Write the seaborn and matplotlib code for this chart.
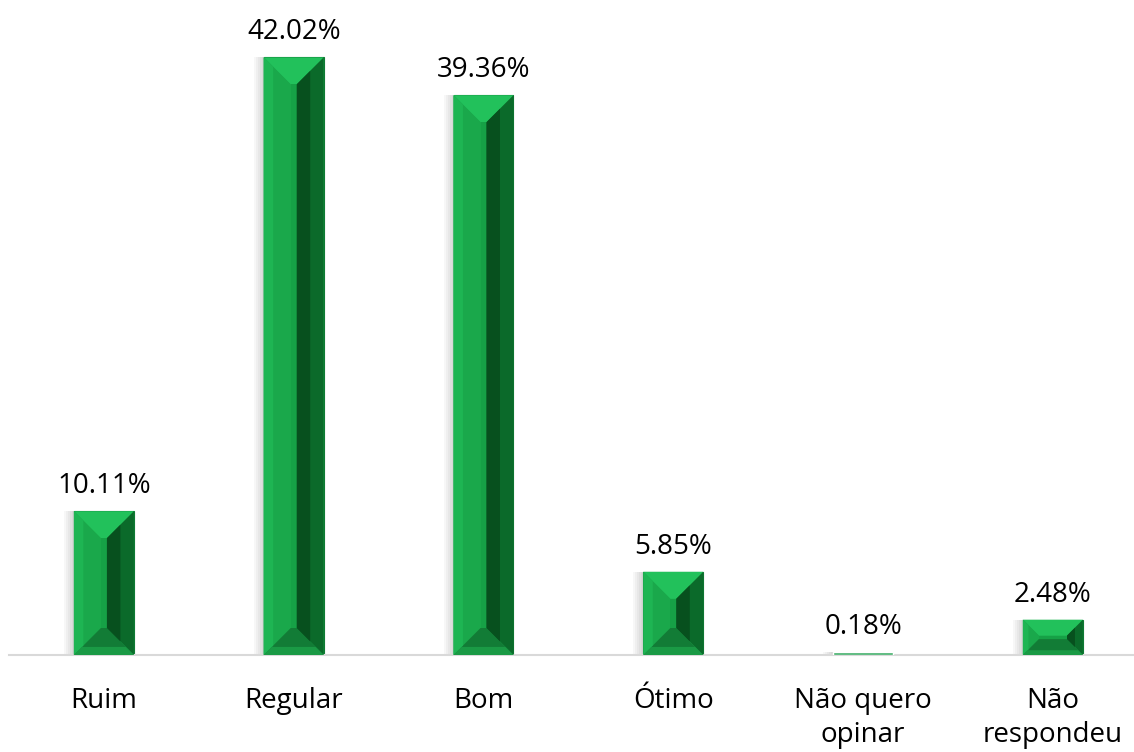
import pandas as pd
import seaborn as sns
import matplotlib.pyplot as plt
from matplotlib.patches import Polygon, Rectangle

# survey answers and their share
categories = ['Ruim', 'Regular', 'Bom', 'Ótimo', 'Não quero\nopinar', 'Não\nrespondeu']
percent = [10.11, 42.02, 39.36, 5.85, 0.18, 2.48]

df = pd.DataFrame({'categoria': categories, 'percentual': percent})

sns.set_style('white')
plt.rcParams['font.family'] = ['Open Sans', 'DejaVu Sans']
plt.rcParams['text.color'] = 'black'
plt.rcParams['xtick.color'] = 'black'

W, H = 1134, 752
fig = plt.figure(figsize=(W / 100, H / 100), dpi=100)
ax = fig.add_axes([9 / W, (H - 655) / H, (W - 9) / W, 640 / H])

sns.barplot(data=df, x='categoria', y='percentual', color='#1aa84a',
            saturation=1, width=0.316, ax=ax, zorder=2)
ax.set_xlim(-0.5, (W - 9) / 189.8 - 0.5)
ax.set_ylim(0, 45)

for s in ['top', 'left', 'right']:
    ax.spines[s].set_visible(False)
ax.spines['bottom'].set_color('#d9d9d9')
ax.spines['bottom'].set_linewidth(1.5)
ax.set_yticks([])
ax.set_xlabel('')
ax.set_ylabel('')
ax.tick_params(axis='x', length=0, pad=23, labelsize=20, labelcolor='black')
for t in ax.get_xticklabels():
    t.set_linespacing(1.3)

# value labels
for p, v in zip(ax.patches, percent):
    ax.annotate(f'{v:.2f}%', (p.get_x() + p.get_width() / 2, p.get_height()),
                xytext=(0, 8), textcoords='offset points',
                ha='center', va='bottom', fontsize=20, color='black')

# bevel look, built from the bar geometry seaborn produced
fig.canvas.draw()
inv = ax.transData.inverted()


def poly(pts, color, z=3):
    ax.add_patch(Polygon(inv.transform(pts), closed=True, facecolor=color,
                         edgecolor='none', zorder=z))


for p in list(ax.patches[:len(percent)]):
    bb = p.get_window_extent()
    x0, y0, x1, y1 = bb.x0, bb.y0, bb.x1, bb.y1
    w, h = x1 - x0, y1 - y0
    # soft shadow on the left, behind the bar
    for k in range(1, 6):
        ax.add_patch(Rectangle(inv.transform([(x0 - 2 * k, y0)])[0],
                               p.get_width(), p.get_height(),
                               facecolor='#000000', alpha=0.03,
                               edgecolor='none', zorder=0.5))
    if h < 4:
        p.set_facecolor('#3fae68')
        p.set_zorder(3)
        continue
    p.set_edgecolor('#0e7a33')
    p.set_linewidth(0.8)
    b = min(w, h) * 0.45
    ix0, ix1, iy0, iy1 = x0 + b, x1 - b, y0 + b, y1 - b
    poly([(x0, y1), (x1, y1), (ix1, iy1), (ix0, iy1)], '#22c15b')
    poly([(x0, y0), (x0, y1), (ix0, iy1), (ix0, iy0)], '#1aa84b')
    poly([(x0, y0), (x0, y1), (x0 + b * 0.35, y1 - b * 0.35),
          (x0 + b * 0.35, y0 + b * 0.35)], '#1eb553', 4)
    poly([(x1, y0), (x1, y1), (ix1, iy1), (ix1, iy0)], '#0b6a2a')
    poly([(ix1 + b * 0.5, y0 + b * 0.5), (ix1 + b * 0.5, y1 - b * 0.5),
          (ix1, iy1), (ix1, iy0)], '#07501e', 4)
    poly([(x0, y0), (x1, y0), (ix1, iy0), (ix0, iy0)], '#127c36')
    poly([(x0, y0), (x1, y0), (x1 - b * 0.3, y0 + b * 0.3),
          (x0 + b * 0.3, y0 + b * 0.3)], '#1a9a45', 4)
    poly([(ix0, iy0), (ix1, iy0), (ix1, iy1), (ix0, iy1)], '#16a146')

fig.savefig('out.png', dpi=100)
